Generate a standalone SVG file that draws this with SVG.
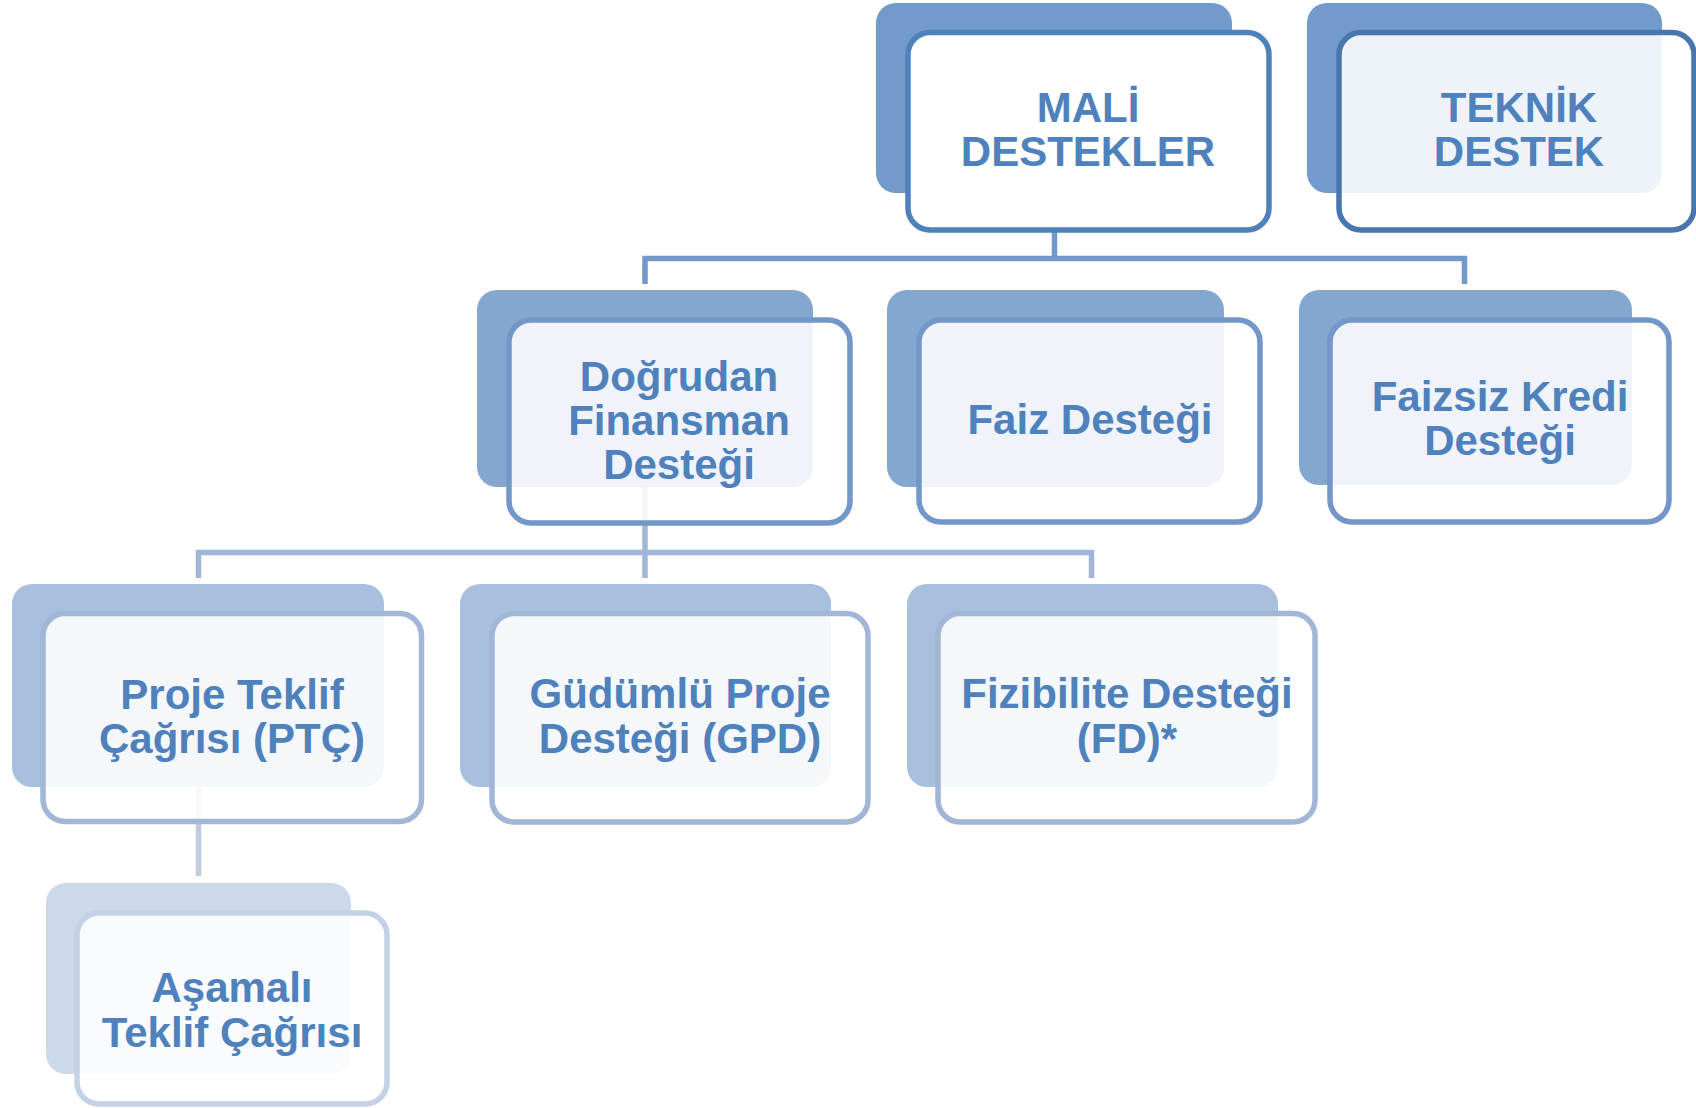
<svg xmlns="http://www.w3.org/2000/svg" width="1696" height="1108" viewBox="0 0 1696 1108">
<style>
text{font-family:"Liberation Sans",Arial,sans-serif;font-weight:bold;font-size:42px;fill:#4F81BD;text-anchor:middle}
.conn{fill:none;stroke-width:5.5}
.front{fill:#ffffff;fill-opacity:0.88;stroke-width:5.5}
.b1{fill:#729BCC}.b2{fill:#84A7D0}.b3{fill:#A8C0DE}.b4{fill:#CBD9EB}
.s1{stroke:#4F81BD}.s1d{stroke:#4A76AE}.s2{stroke:#7397C8}.s3{stroke:#A2B6D7}.s4{stroke:#C5D1E4}
</style>
<rect width="1696" height="1108" fill="#ffffff"/>
<g id="connectors">
<path class="conn" stroke="#7399CA" d="M1054.5 193V258.5M645 284V258.5H1464.5V284"/>
<path class="conn" stroke="#A2B6D8" d="M645 487V578M198.5 578V552.5H1091.5V578"/>
<path class="conn" stroke="#BFCCE2" d="M198.5 787V876"/>
</g>
<g id="mali">
<rect class="b1" x="876" y="3" width="356" height="190" rx="20"/>
<rect class="front s1" x="908" y="32.5" width="361" height="197.5" rx="22" style="fill-opacity:1"/>
<text x="1088" y="122">MALİ</text>
<text x="1088" y="166">DESTEKLER</text>
</g>
<g id="teknik">
<rect class="b1" x="1307" y="3" width="355" height="190" rx="20"/>
<rect class="front s1d" x="1339" y="32.5" width="355" height="197.5" rx="22"/>
<text x="1519" y="122">TEKNİK</text>
<text x="1519" y="166">DESTEK</text>
</g>
<g id="dogrudan">
<rect class="b2" x="477" y="290" width="336" height="197" rx="20"/>
<rect class="front s2" x="509" y="320" width="341" height="203" rx="22"/>
<text x="679" y="391">Doğrudan</text>
<text x="679" y="435">Finansman</text>
<text x="679" y="479">Desteği</text>
</g>
<g id="faiz">
<rect class="b2" x="887" y="290" width="337" height="197" rx="20"/>
<rect class="front s2" x="919" y="320" width="341" height="202" rx="22"/>
<text x="1090" y="434">Faiz Desteği</text>
</g>
<g id="faizsiz">
<rect class="b2" x="1299" y="290" width="333" height="195" rx="20"/>
<rect class="front s2" x="1330" y="320" width="339" height="202" rx="22"/>
<text x="1500" y="411">Faizsiz Kredi</text>
<text x="1500" y="455">Desteği</text>
</g>
<g id="ptc">
<rect class="b3" x="12" y="584" width="372" height="203" rx="20"/>
<rect class="front s3" x="43" y="613.5" width="378.5" height="208" rx="22"/>
<text x="232" y="709">Proje Teklif</text>
<text x="232" y="753">Çağrısı (PTÇ)</text>
</g>
<g id="gpd">
<rect class="b3" x="460" y="584" width="371" height="203" rx="20"/>
<rect class="front s3" x="492" y="613.5" width="376" height="208.5" rx="22"/>
<text x="680" y="708">Güdümlü Proje</text>
<text x="680" y="753">Desteği (GPD)</text>
</g>
<g id="fd">
<rect class="b3" x="907" y="584" width="371" height="203" rx="20"/>
<rect class="front s3" x="938" y="613.5" width="377" height="208.5" rx="22"/>
<text x="1127" y="708">Fizibilite Desteği</text>
<text x="1127" y="753">(FD)*</text>
</g>
<g id="asamali">
<rect class="b4" x="46" y="883" width="305" height="191" rx="20"/>
<rect class="front s4" x="77" y="913" width="310" height="191" rx="22"/>
<text x="232" y="1002">Aşamalı</text>
<text x="232" y="1047">Teklif Çağrısı</text>
</g>
</svg>
